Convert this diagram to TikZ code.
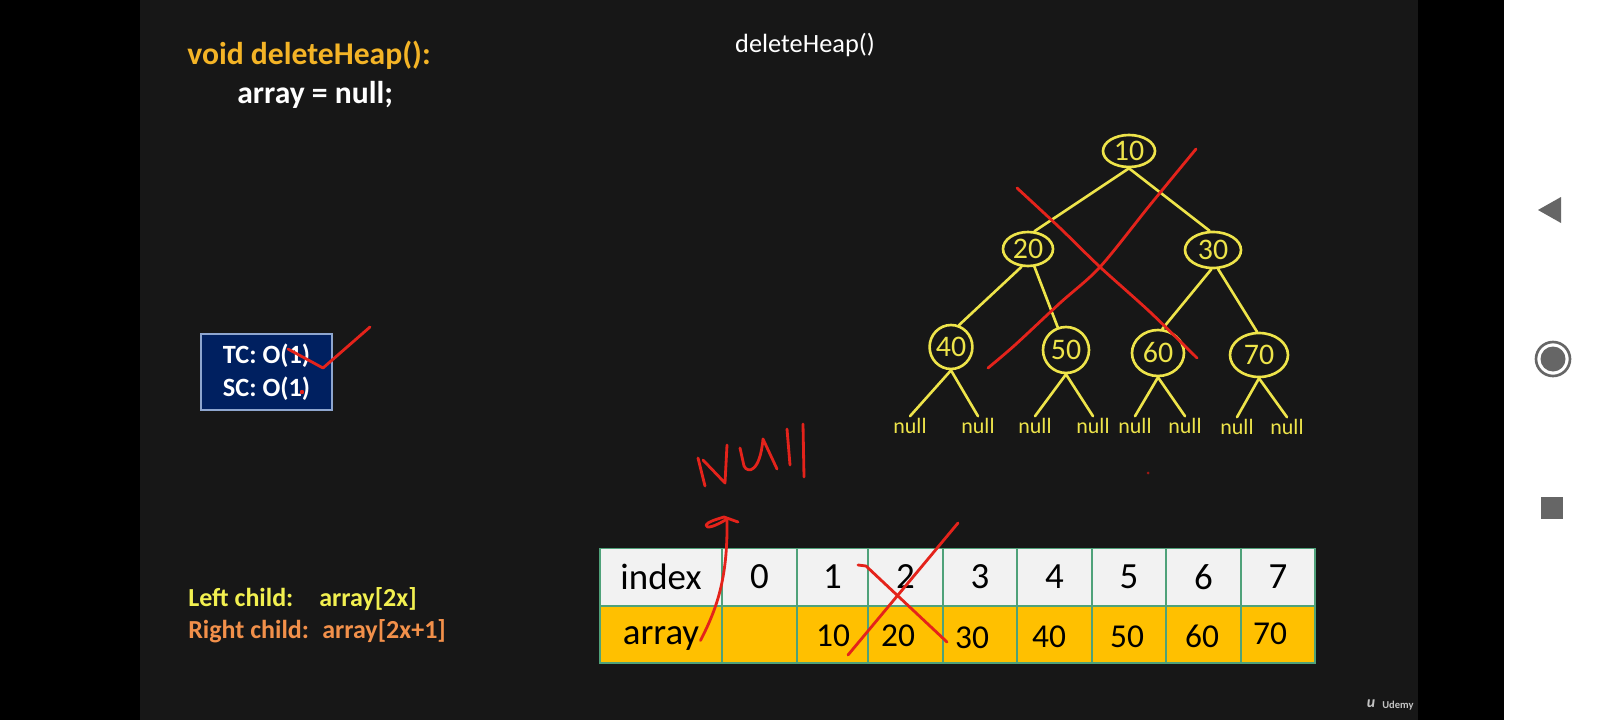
\documentclass[tikz,border=0pt]{standalone}
\usepackage{fontspec}
\setmainfont{Carlito}
\usetikzlibrary{shapes.geometric}
\definecolor{slide}{HTML}{171717}
\definecolor{titleorange}{HTML}{F4B426}
\definecolor{treeyellow}{HTML}{EEE44A}
\definecolor{leftyellow}{HTML}{F2F050}
\definecolor{rightorange}{HTML}{F2904A}
\definecolor{inkred}{HTML}{E4231B}
\definecolor{boxblue}{HTML}{002060}
\definecolor{boxedge}{HTML}{8EA6CF}
\definecolor{tgreen}{HTML}{4FA27A}
\definecolor{headgray}{HTML}{F2F2F2}
\definecolor{amber}{HTML}{FFC000}
\definecolor{navgray}{HTML}{666666}
\definecolor{udemygray}{HTML}{C4C4C4}
\tikzset{
  tnode/.style={ellipse, draw=treeyellow, line width=1.5pt, inner sep=0pt, text=treeyellow, font=\fontsize{17}{18}\selectfont},
  tedge/.style={draw=treeyellow, line width=1.5pt, line cap=round},
  nullnode/.style={text=treeyellow, inner sep=1pt, font=\fontsize{12.5}{13}\selectfont},
  redink/.style={draw=inkred, line width=1.6pt, line cap=round, line join=round},
  cell/.style={draw=tgreen, line width=0.6pt, inner sep=0pt, minimum height=1.14cm, font=\fontsize{21}{22}\selectfont, text=black},
  headcell/.style={cell, fill=headgray},
  arrcell/.style={cell, fill=amber},
  handnum/.style={inner sep=0pt, text=black, font=\fontsize{19}{20}\selectfont},
  childtext/.style={anchor=base west, inner sep=0, font=\bfseries\fontsize{14.8}{16}\selectfont},
}
\begin{document}
\begin{tikzpicture}[x=0.02cm,y=-0.02cm]
\useasboundingbox (0,0) rectangle (1600,720);
\fill[black] (0,0) rectangle (1600,720);
\fill[slide] (140,0) rectangle (1418,720);
\fill[white] (1504,0) rectangle (1600,720);

% nav icons
\fill[navgray] (1538,210) -- (1561,197) -- (1561,223) -- cycle;
\draw[navgray, line width=1.5pt] (1553,359) circle[radius=17];
\fill[navgray] (1553,359) circle[radius=12.5];
\fill[navgray] (1541,497) rectangle (1563,519);

% texts
\node[anchor=base west, inner sep=0, text=titleorange, font=\bfseries\fontsize{18}{20}\selectfont] (title) at (187,64) {void deleteHeap():};
\node[anchor=base west, inner sep=0, text=white, font=\bfseries\fontsize{18}{20}\selectfont] (code) at (237,103) {array = null;};
\node[anchor=base, inner sep=0, text=white, font=\fontsize{15}{16}\selectfont] (heading) at (805,52) {deleteHeap()};

% complexity box
\node[draw=boxedge, line width=0.6pt, fill=boxblue, text=white, minimum width=2.62cm, minimum height=1.52cm, inner sep=0pt, align=center, font=\bfseries\fontsize{15}{18.6}\selectfont] (tc) at (266.5,372) {TC: O(1)\\SC: O(1)};

\node[childtext, text=leftyellow] (lc) at (188,606) {Left child:};
\node[childtext, text=leftyellow] (lca) at (319,606) {array[2x]};
\node[childtext, text=rightorange] (rc) at (188,638) {Right child:};
\node[childtext, text=rightorange] (rca) at (322,638) {array[2x+1]};

% tree
\node[tnode, minimum width=1.04cm, minimum height=0.64cm] (t10) at (1129,151) {10};
\node[tnode, minimum width=1.00cm, minimum height=0.68cm] (t20) at (1028,249) {20};
\node[tnode, minimum width=1.12cm, minimum height=0.72cm] (t30) at (1213,250) {30};
\node[tnode, minimum width=0.84cm, minimum height=0.88cm] (t40) at (951,347) {40};
\node[tnode, minimum width=0.92cm, minimum height=0.92cm] (t50) at (1066,350) {50};
\node[tnode, minimum width=1.04cm, minimum height=0.92cm] (t60) at (1158,353) {60};
\node[tnode, minimum width=1.16cm, minimum height=0.88cm] (t70) at (1259,355) {70};

\node[nullnode] (n1) at (910,426) {null};
\node[nullnode] (n2) at (978,426) {null};
\node[nullnode] (n3) at (1035,426) {null};
\node[nullnode] (n4) at (1093,426) {null};
\node[nullnode] (n5) at (1135,426) {null};
\node[nullnode] (n6) at (1185,426) {null};
\node[nullnode] (n7) at (1237,427) {null};
\node[nullnode] (n8) at (1287,427) {null};

\draw[tedge] (t10.south) -- (t20.70);
\draw[tedge] (t10.south) -- (t30.100);
\draw[tedge] (t20.250) -- (t40.70);
\draw[tedge] (t20.290) -- (t50.110);
\draw[tedge] (t30.265) -- (t60.80);
\draw[tedge] (t30.285) -- (t70.95);
\draw[tedge] (t40.south) -- (n1.north);
\draw[tedge] (t40.south) -- (n2.north);
\draw[tedge] (t50.south) -- (n3.north);
\draw[tedge] (t50.south) -- (n4.north);
\draw[tedge] (t60.south) -- (n5.north);
\draw[tedge] (t60.south) -- (n6.north);
\draw[tedge] (t70.south) -- (n7.north);
\draw[tedge] (t70.south) -- (n8.north);

% table
\node[headcell, minimum width=2.44cm] (h0) at (661,577) {index};
\node[headcell, minimum width=1.50cm] (h1) at (759.5,577) {0};
\node[headcell, minimum width=1.42cm] (h2) at (832.5,577) {1};
\node[headcell, minimum width=1.50cm] (h3) at (905.5,577) {2};
\node[headcell, minimum width=1.48cm] (h4) at (980,577) {3};
\node[headcell, minimum width=1.50cm] (h5) at (1054.5,577) {4};
\node[headcell, minimum width=1.48cm] (h6) at (1129,577) {5};
\node[headcell, minimum width=1.50cm] (h7) at (1203.5,577) {6};
\node[headcell, minimum width=1.48cm] (h8) at (1278,577) {7};
\node[arrcell, minimum width=2.44cm, text height=16pt, text depth=4.2pt] (a0) at (661,634.5) {array};
\node[arrcell, minimum width=1.50cm] (a1) at (759.5,634.5) {};
\node[arrcell, minimum width=1.42cm] (a2) at (832.5,634.5) {};
\node[arrcell, minimum width=1.50cm] (a3) at (905.5,634.5) {};
\node[arrcell, minimum width=1.48cm] (a4) at (980,634.5) {};
\node[arrcell, minimum width=1.50cm] (a5) at (1054.5,634.5) {};
\node[arrcell, minimum width=1.48cm] (a6) at (1129,634.5) {};
\node[arrcell, minimum width=1.50cm] (a7) at (1203.5,634.5) {};
\node[arrcell, minimum width=1.48cm] (a8) at (1278,634.5) {};

\node[handnum] (v1) at (833,636) {10};
\node[handnum] (v2) at (898,636) {20};
\node[handnum] (v3) at (972,638) {30};
\node[handnum] (v4) at (1049,637) {40};
\node[handnum] (v5) at (1127,637) {50};
\node[handnum] (v6) at (1202,636) {60};
\node[handnum] (v7) at (1270,634) {70};

% red ink
\draw[redink] (288,349) -- (323,368) -- (370,327);
\fill[inkred] (302,392) circle[radius=2.2];
\fill[inkred!70!black] (1148,473) circle[radius=1.5];

\draw[redink] plot[smooth] coordinates {(1017,188) (1060,228) (1100,267) (1150,312) (1197,358)};
\draw[redink] plot[smooth] coordinates {(1196,149) (1150,205) (1100,267) (1060,303) (1015,345) (988,368)};

\draw[redink] (958,523) -- (848,655);
\draw[redink] (858,565) -- (866,566) -- (947,642);

% Null handwriting
\draw[redink] (698,458) -- (705,486);
\draw[redink] (703,460) -- (725,483) -- (727,445);
\draw[redink] (740,448) -- (744,466) .. controls (748,474) and (760,472) .. (763,439) -- (777,469);
\draw[redink] (787,429) -- (790,465);
\draw[redink] (803,424) -- (804,477);

% arrow from array to Null
\coordinate (arrtop) at (727,519);
\draw[redink] (a0.east) ++(-22,6) .. controls (716,610) and (728,580) .. (arrtop);
\draw[redink] (738,522) -- (724,517) .. controls (714,520) and (708,522) .. (706,525) .. controls (706,529) and (714,527) .. (arrtop);

% Udemy mark
\node[inner sep=0, text=udemygray, font=\bfseries\itshape\fontsize{9}{9}\selectfont] (ulogo) at (1371,704) {u};
\node[anchor=west, inner sep=0, text=udemygray, font=\bfseries\fontsize{6}{6}\selectfont] (utext) at (1382,706) {Udemy};
\end{tikzpicture}
\end{document}
